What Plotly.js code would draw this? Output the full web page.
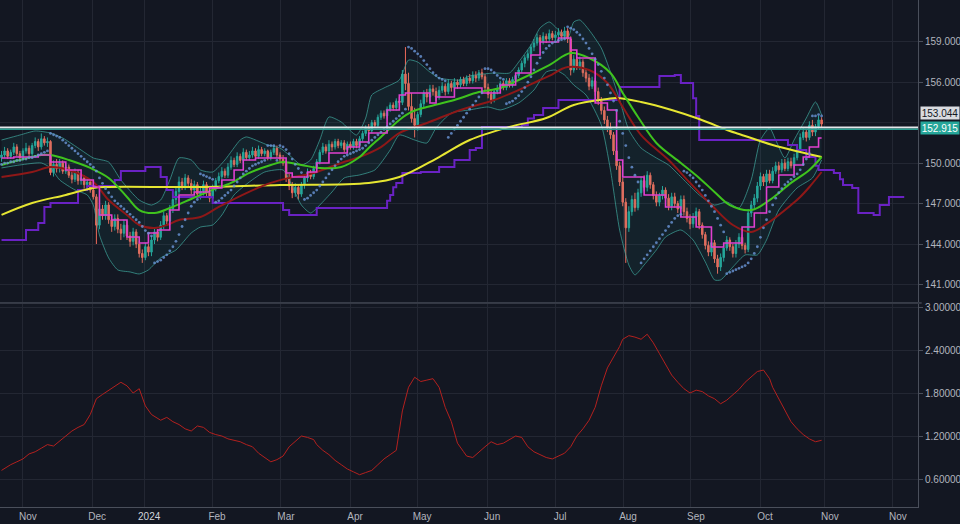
<!DOCTYPE html>
<html><head><meta charset="utf-8">
<script src="https://cdn.plot.ly/plotly-3.0.1.min.js"></script>
<style>html,body{margin:0;padding:0;background:#131722;}#chart{width:960px;height:524px;}</style>
</head><body><div id="chart"></div>
<script>
// ---- Daily candles (bar index 0 = first visible bar) ----
const openPx = [
150.4,150.6,150.9,150.5,150.8,151.2,150.7,150.4,150.9,151.1,
150.7,151.3,151.6,151.2,151.8,151.5,151.6,149.3,149.9,149.6,
150.0,149.4,149.7,149.1,148.8,149.3,148.7,148.9,148.4,148.6,
148.0,147.5,145.4,146.6,146.1,146.9,145.8,145.3,145.9,145.1,
144.8,145.4,144.6,144.2,144.9,144.0,143.3,143.0,143.8,143.4,
144.3,144.9,144.5,145.4,146.1,145.7,146.6,147.3,147.9,148.6,
148.3,148.9,148.5,148.0,148.4,147.7,147.9,148.4,147.8,147.4,
148.1,148.7,149.0,149.4,149.1,149.7,150.2,149.9,150.5,150.2,
150.8,150.4,150.6,150.9,150.5,151.0,150.7,150.9,150.4,150.8,
151.1,150.6,150.3,150.0,148.9,148.3,147.8,148.2,147.7,148.4,
148.9,149.3,149.0,149.6,150.1,150.8,151.2,150.9,151.4,151.2,
151.6,151.3,151.5,151.0,151.4,151.2,151.6,151.3,151.8,152.2,
152.6,152.4,153.0,152.8,153.4,153.7,153.5,154.0,154.3,154.1,
154.6,154.5,156.6,155.9,154.2,153.3,152.8,153.6,154.4,155.2,
154.9,155.5,155.3,154.9,155.4,155.7,155.3,155.9,155.6,156.0,
155.8,156.2,155.9,156.3,156.1,156.5,156.3,156.7,156.4,155.6,
155.1,154.7,155.3,155.5,155.9,155.6,156.1,155.8,156.2,156.5,
156.9,157.4,157.8,158.1,158.6,158.9,159.3,159.0,159.4,159.2,
159.6,159.3,159.5,159.7,159.4,159.8,159.2,156.9,157.7,157.1,
157.5,156.7,156.3,155.7,156.1,155.3,154.6,153.9,153.2,152.6,
152.1,150.9,149.8,148.6,147.1,145.2,146.4,147.3,146.7,147.8,
148.7,148.2,149.1,148.4,147.6,147.1,147.6,148.0,147.4,146.8,
147.5,147.0,146.6,147.3,146.4,145.9,145.5,146.0,146.4,145.4,
144.7,143.9,143.4,144.1,142.9,142.3,143.0,143.7,144.3,143.8,
143.3,144.0,144.5,143.9,143.6,146.3,146.9,147.4,148.3,149.0,
148.6,149.2,148.7,149.4,149.8,149.5,150.0,149.6,150.1,149.8,
150.4,151.0,151.9,152.3,151.9,152.8,152.3,152.7,153.2];
const highPx = [
150.9,151.2,151.1,151.0,151.5,151.4,150.9,151.1,151.5,151.3,
151.5,151.9,151.8,152.2,152.0,151.9,151.7,150.2,150.3,150.3,
150.2,149.9,149.9,149.4,149.6,149.5,149.2,149.1,148.9,148.8,
148.3,147.7,146.9,146.9,147.2,147.1,146.1,146.2,146.2,145.5,
145.8,145.7,144.9,145.2,145.1,144.2,143.6,144.1,144.0,144.6,
145.2,145.1,145.7,146.4,146.3,146.9,147.6,148.2,149.0,148.9,
149.2,149.1,148.8,148.7,148.6,148.2,148.7,148.6,148.0,148.4,
148.9,149.3,149.7,149.6,150.0,150.5,150.4,150.8,150.7,151.1,
151.0,150.9,151.2,151.1,151.3,151.2,151.1,151.0,151.0,151.3,
151.3,150.8,150.6,150.2,149.2,148.6,148.5,148.4,148.6,149.1,
149.6,149.5,149.8,150.3,151.0,151.5,151.4,151.7,151.6,151.8,
151.8,151.7,151.7,151.6,151.6,151.8,151.8,152.0,152.4,152.8,
152.9,153.2,153.2,153.6,153.9,153.9,154.2,154.5,154.5,154.8,
154.9,156.9,158.6,156.7,155.2,154.1,153.8,154.7,155.4,155.5,
155.8,155.8,155.6,155.7,156.0,155.9,156.2,156.1,156.3,156.2,
156.4,156.4,156.5,156.6,156.8,156.8,156.9,157.0,156.6,155.9,
155.4,155.5,155.8,156.1,156.1,156.3,156.3,156.4,156.7,157.1,
157.6,158.0,158.4,158.8,159.2,159.6,159.5,159.7,159.6,159.9,
159.8,159.8,160.0,159.9,160.1,160.0,159.4,158.0,157.9,157.9,
157.7,157.0,156.6,156.4,156.3,155.6,154.9,154.2,153.5,153.0,
152.3,151.2,150.1,148.9,147.4,146.8,147.6,147.8,148.1,149.0,
149.1,149.4,149.3,148.6,147.9,147.8,148.3,148.2,147.7,147.8,
147.8,147.2,147.6,147.6,146.7,146.2,146.3,146.7,146.6,145.6,
144.9,144.2,144.4,144.3,143.2,143.3,144.0,144.6,144.5,144.0,
144.3,144.8,144.7,144.1,146.6,147.2,147.7,148.6,149.3,149.2,
149.5,149.5,149.7,150.1,150.1,150.3,150.3,150.4,150.4,150.7,
151.3,152.2,152.6,152.5,153.1,153.2,152.9,153.5,153.4];
const lowPx = [
150.1,150.4,150.3,150.3,150.6,150.5,150.2,150.2,150.7,150.5,
150.5,151.1,150.9,151.0,151.3,151.2,149.1,149.0,149.3,149.3,
149.2,149.2,148.9,148.5,148.6,148.4,148.4,148.1,148.1,147.8,
147.3,144.0,145.1,145.8,145.8,145.5,144.9,145.0,144.8,144.3,
144.5,144.3,143.8,143.9,143.7,143.0,142.6,142.8,143.1,143.1,
144.0,144.2,144.3,145.1,145.4,145.4,146.3,147.0,147.7,148.0,
148.0,148.3,147.7,147.7,147.4,147.3,147.6,147.5,147.1,147.2,
147.9,148.5,148.8,148.9,148.9,149.5,149.7,149.7,150.0,150.0,
150.2,150.2,150.4,150.3,150.3,150.5,150.5,150.2,150.2,150.6,
150.4,150.1,149.8,148.6,148.0,147.4,147.5,147.3,147.5,148.1,
148.6,148.8,148.8,149.4,149.9,150.6,150.7,150.7,150.9,151.0,
151.1,151.1,150.8,150.8,151.0,151.0,151.1,151.1,151.6,152.0,
152.1,152.2,152.6,152.6,153.2,153.3,153.3,153.8,153.9,153.9,
154.3,154.3,155.4,153.9,153.0,151.9,152.4,153.4,154.1,154.5,
154.6,155.0,154.6,154.7,155.2,155.0,155.1,155.3,155.4,155.5,
155.6,155.7,155.7,155.9,155.9,156.0,156.1,156.2,155.4,154.8,
154.4,154.5,155.1,155.3,155.4,155.4,155.6,155.6,156.0,156.3,
156.7,157.1,157.6,157.9,158.3,158.7,158.8,158.8,158.9,159.0,
159.1,159.1,159.3,159.2,159.2,158.9,156.5,156.7,156.9,156.9,
156.4,156.0,155.4,155.5,155.0,154.3,153.6,152.9,152.3,151.8,
150.6,149.5,148.3,146.8,142.6,144.9,146.1,146.4,146.5,147.5,
147.9,147.9,148.1,147.3,146.8,146.8,147.3,147.1,146.5,146.5,
146.7,146.3,146.3,146.1,145.6,145.1,145.2,145.8,145.1,144.4,
143.6,143.1,143.1,142.6,141.8,142.0,142.7,143.5,143.5,143.0,
143.0,143.7,143.6,143.3,143.4,146.0,146.6,147.1,148.0,148.3,
148.3,148.5,148.5,149.2,149.2,149.3,149.4,149.4,149.6,149.6,
150.2,150.8,151.7,151.6,151.7,152.0,152.0,152.5,152.6];
const closePx = [
150.6,150.9,150.5,150.8,151.2,150.7,150.4,150.9,151.1,150.7,
151.3,151.6,151.2,151.8,151.5,151.6,149.3,149.9,149.6,150.0,
149.4,149.7,149.1,148.8,149.3,148.7,148.9,148.4,148.6,148.0,
147.5,145.4,146.6,146.1,146.9,145.8,145.3,145.9,145.1,144.8,
145.4,144.6,144.2,144.9,144.0,143.3,143.0,143.8,143.4,144.3,
144.9,144.5,145.4,146.1,145.7,146.6,147.3,147.9,148.6,148.3,
148.9,148.5,148.0,148.4,147.7,147.9,148.4,147.8,147.4,148.1,
148.7,149.0,149.4,149.1,149.7,150.2,149.9,150.5,150.2,150.8,
150.4,150.6,150.9,150.5,151.0,150.7,150.9,150.4,150.8,151.1,
150.6,150.3,150.0,148.9,148.3,147.8,148.2,147.7,148.4,148.9,
149.3,149.0,149.6,150.1,150.8,151.2,150.9,151.4,151.2,151.6,
151.3,151.5,151.0,151.4,151.2,151.6,151.3,151.8,152.2,152.6,
152.4,153.0,152.8,153.4,153.7,153.5,154.0,154.3,154.1,154.6,
154.5,156.6,155.9,154.2,153.3,152.8,153.6,154.4,155.2,154.9,
155.5,155.3,154.9,155.4,155.7,155.3,155.9,155.6,156.0,155.8,
156.2,155.9,156.3,156.1,156.5,156.3,156.7,156.4,155.6,155.1,
154.7,155.3,155.5,155.9,155.6,156.1,155.8,156.2,156.5,156.9,
157.4,157.8,158.1,158.6,158.9,159.3,159.0,159.4,159.2,159.6,
159.3,159.5,159.7,159.4,159.8,159.2,156.9,157.7,157.1,157.5,
156.7,156.3,155.7,156.1,155.3,154.6,153.9,153.2,152.6,152.1,
150.9,149.8,148.6,147.1,145.2,146.4,147.3,146.7,147.8,148.7,
148.2,149.1,148.4,147.6,147.1,147.6,148.0,147.4,146.8,147.5,
147.0,146.6,147.3,146.4,145.9,145.5,146.0,146.4,145.4,144.7,
143.9,143.4,144.1,142.9,142.3,143.0,143.7,144.3,143.8,143.3,
144.0,144.5,143.9,143.6,146.3,146.9,147.4,148.3,149.0,148.6,
149.2,148.7,149.4,149.8,149.5,150.0,149.6,150.1,149.8,150.4,
151.0,151.9,152.3,151.9,152.8,152.3,152.7,153.2,152.9];
// Parabolic SAR dots, one per bar
const sarPx = [
149.9,150.0,150.0,150.1,150.1,150.2,150.2,150.3,150.3,150.4,
150.4,150.5,150.6,150.7,150.8,150.9,152.2,152.1,152.0,151.9,
151.7,151.5,151.3,151.1,150.9,150.7,150.5,150.3,150.1,149.9,
149.7,149.4,148.9,148.5,148.1,147.8,147.5,147.2,147.0,146.8,
146.6,146.4,146.2,146.0,145.8,145.6,145.3,145.0,144.8,144.6,
142.6,142.7,142.8,143.0,143.2,143.5,143.8,144.2,144.7,145.3,
145.8,146.3,146.8,147.1,147.3,149.2,149.1,149.0,148.9,148.8,
147.1,147.2,147.4,147.6,147.8,148.0,148.3,148.6,148.9,149.2,
149.4,149.6,149.8,149.9,150.0,150.1,150.2,151.3,151.3,151.3,
150.2,151.3,151.2,151.0,150.7,150.3,149.9,149.6,149.3,147.3,
147.4,147.6,147.8,148.0,148.3,148.6,148.9,149.2,149.5,149.8,
150.1,150.3,150.5,150.6,150.7,150.8,150.9,151.0,151.1,151.3,
151.5,151.7,151.9,152.1,152.3,152.5,152.7,152.9,153.1,153.3,
153.5,153.7,154.0,158.6,158.5,158.3,158.1,157.9,157.6,157.3,
157.0,156.7,156.5,156.3,156.2,156.1,151.9,152.2,152.5,152.8,
153.1,153.4,153.7,154.0,154.3,154.6,154.9,155.2,157.0,157.0,
156.9,156.7,156.5,156.3,156.2,154.4,154.5,154.6,154.8,155.0,
155.3,155.6,156.0,156.4,156.9,157.4,157.8,158.2,158.5,158.7,
158.9,159.0,159.1,159.15,159.2,160.1,160.0,159.9,159.7,159.5,
159.2,158.9,158.5,158.1,157.7,157.3,156.8,156.3,155.8,155.2,
154.6,153.9,153.1,152.2,151.3,150.4,149.7,149.1,148.6,142.6,
142.9,143.2,143.5,143.8,144.1,144.4,144.7,145.0,145.3,145.6,
145.9,146.1,146.2,149.4,149.3,149.1,148.9,148.6,148.3,148.0,
147.6,147.2,146.8,146.4,145.9,145.4,144.9,141.8,141.9,142.0,
142.1,142.2,142.3,142.4,142.6,142.9,143.3,143.8,144.5,145.2,
145.8,146.4,146.9,147.4,147.8,148.1,148.4,148.6,148.8,149.0,
149.2,149.5,149.9,150.3,150.7,153.5,153.5,153.6,153.5];

// ---- Moving averages (read at sample bars) ----
const sma200Bars = [0,10,21,30,35,65,91,120,130,143,153,166,178,187,198,201,209,219,228,238,241,252,261,268];
const sma200Vals = [146.16,147.04,147.64,148.16,148.23,148.23,148.38,148.53,148.97,150.45,151.71,152.68,153.34,154.31,154.75,154.83,154.53,153.94,153.27,152.38,152.16,151.34,150.82,150.45];
const sma50Bars = [0,13,16,22,29,35,41,45,50,55,62,69,75,81,88,92,98,104,111,117,120,124,130,134,139,148,156,163,169,179,186,192,199,203,208,214,222,228,233,238,245,251,258,264,268];
const sma50Vals = [149.86,150.60,150.60,150.23,149.64,148.90,147.49,146.52,146.30,146.67,147.34,148.01,148.53,149.27,149.86,150.08,149.86,149.64,149.71,150.45,151.12,151.94,153.20,153.79,154.16,154.68,155.27,155.57,156.16,157.27,158.16,157.79,156.68,155.20,153.42,151.49,150.01,148.90,147.86,146.89,146.52,147.26,148.53,149.49,150.45];
const sma100Bars = [0,10,16,22,30,35,41,45,50,54,58,65,71,80,88,94,102,111,117,124,130,139,150,161,169,176,179,185,192,198,203,209,218,225,232,239,245,250,258,261,264,268];
const sma100Vals = [148.97,149.34,149.71,149.49,148.60,147.26,146.15,145.41,145.19,145.41,145.78,146.00,146.75,147.78,148.53,148.90,149.27,150.01,150.45,151.19,152.23,152.97,153.94,154.68,155.42,156.16,156.46,157.12,156.90,155.94,154.16,152.08,150.23,148.53,146.89,145.41,144.89,145.49,146.89,147.49,148.23,149.34];
// ---- Conversion line (stepped) ----
const convBars = [0,4,12,16,21,26,30,32,36,41,45,48,51,55,58,63,68,72,76,79,83,93,95,100,103,107,113,117,120,126,130,132,140,142,148,157,163,168,173,176,182,186,188,194,198,201,203,210,217,222,227,232,236,242,246,250,254,259,262,264,267,268];
const convVals = [150.38,150.45,150.60,150.08,149.49,148.75,148.23,146.15,145.78,144.52,144.08,144.82,145.04,146.52,147.64,147.86,148.16,148.75,149.49,150.23,150.38,149.27,148.97,149.34,150.01,150.75,151.19,151.56,152.23,153.94,155.05,155.20,154.46,154.90,155.57,155.20,155.79,156.68,158.01,158.98,159.27,158.38,157.79,154.46,153.94,150.23,148.97,147.64,146.75,146.00,145.26,143.78,144.08,145.26,146.30,148.23,149.12,149.86,150.45,151.19,151.86,151.86];
// ---- Leading span (stepped, projected forward) ----
const spanBars = [0,8,12,14,16,25,28,37,39,47,52,54,56,69,92,94,103,126,127,128,129,131,137,143,148,153,155,157,170,172,174,177,182,201,202,215,220,222,226,227,228,255,257,260,263,266,267,272,274,275,278,280,285,287,290,295];
const spanVals = [144.30,145.04,145.56,146.75,147.04,148.01,148.30,148.75,149.42,149.71,148.97,148.01,147.49,147.04,146.52,146.15,146.67,147.20,147.64,148.20,148.53,149.27,149.34,149.71,150.23,150.97,151.12,152.68,152.83,153.30,153.57,154.09,154.68,154.83,155.64,156.46,156.53,155.94,154.80,153.50,151.71,151.71,151.34,150.97,150.45,149.80,149.49,149.27,148.80,148.38,148.16,146.30,146.15,146.89,147.49,147.49];
// ---- Bollinger bands ----
const bbUpBars = [0,6,11,16,20,26,30,35,39,45,49,52,55,58,62,65,69,73,78,80,87,91,94,98,101,104,107,111,116,119,121,125,130,133,136,140,143,150,153,161,166,169,173,176,179,182,185,187,189,192,196,199,202,205,209,214,218,223,228,233,237,241,245,248,251,253,256,259,263,266,268];
const bbUpVals = [151.71,152.08,152.38,152.23,151.86,150.97,150.38,150.08,148.75,147.26,146.89,147.26,148.75,150.38,150.23,149.49,149.34,150.23,151.71,151.94,151.34,151.12,150.60,149.86,150.23,151.71,153.42,153.05,152.08,153.34,155.05,155.57,156.16,157.64,157.49,156.75,156.31,156.16,156.46,156.68,156.68,157.49,158.75,160.02,160.46,159.87,159.27,160.46,160.61,159.87,158.53,156.75,154.68,152.46,151.12,150.38,149.86,148.75,147.64,146.89,147.12,146.67,148.75,151.71,152.60,151.71,150.38,151.71,153.34,154.53,153.57];
const bbLoBars = [0,6,13,16,19,24,28,30,32,35,38,42,45,48,52,57,62,65,69,72,76,81,86,92,94,98,101,104,108,112,117,122,127,130,135,139,142,147,153,159,163,169,174,178,181,184,187,191,196,199,202,205,207,210,214,217,222,226,230,233,235,239,243,247,250,254,260,265,268];
const bbLoVals = [149.64,149.86,150.01,149.64,148.75,148.01,147.64,146.89,144.67,142.97,142.08,141.93,141.78,142.08,142.97,143.56,144.82,145.26,145.41,146.15,147.64,148.60,149.34,149.49,148.75,146.89,146.30,146.89,147.86,148.90,149.12,149.49,150.97,152.08,151.71,151.49,152.60,153.71,153.94,154.16,153.94,154.46,155.42,156.75,156.90,156.53,155.79,155.05,152.83,149.49,145.04,142.45,141.71,142.45,143.56,144.52,145.04,144.30,142.67,141.34,141.34,142.30,143.19,143.19,144.30,146.52,148.16,148.90,150.23];
// ---- Lower pane volatility line ----
const volBars = [0,1,3,5,7,9,11,13,15,17,19,21,23,25,27,29,31,33,35,37,39,41,43,45,47,49,51,52,54,56,58,60,62,64,66,68,70,72,74,76,78,80,82,84,86,88,90,92,94,96,98,100,102,103,105,107,109,111,113,115,117,119,121,123,125,127,129,131,133,135,137,139,141,143,145,147,149,151,152,154,156,158,160,162,164,166,168,170,172,174,176,178,180,182,184,186,188,190,192,194,196,198,200,202,203,205,207,209,211,213,215,217,219,221,223,225,227,229,231,233,235,237,239,241,243,245,247,249,251,252,254,256,258,260,262,264,266,268];
const volVals = [0.72,0.75,0.80,0.84,0.88,0.95,0.98,1.03,1.08,1.06,
1.13,1.20,1.27,1.32,1.36,1.50,1.72,1.78,1.84,1.90,
1.95,1.90,1.80,1.86,1.62,1.50,1.45,1.42,1.46,1.40,
1.36,1.30,1.27,1.34,1.32,1.25,1.22,1.20,1.16,1.14,
1.12,1.08,1.05,0.96,0.90,0.84,0.87,0.92,1.05,1.12,
1.20,1.18,1.15,1.08,1.00,0.94,0.86,0.80,0.74,0.70,
0.66,0.69,0.72,0.80,0.88,0.94,1.00,1.55,1.88,2.02,
1.96,1.98,2.00,1.88,1.60,1.40,1.10,0.98,0.92,0.90,
0.98,1.05,1.12,1.08,1.10,1.15,1.20,1.18,1.05,0.98,
0.94,0.90,0.88,0.92,0.96,1.05,1.20,1.30,1.42,1.60,
1.90,2.15,2.30,2.45,2.55,2.60,2.58,2.55,2.62,2.50,
2.35,2.20,2.05,1.95,1.86,1.80,1.84,1.82,1.76,1.72,
1.65,1.70,1.78,1.85,1.95,2.02,2.10,2.12,2.00,1.88,
1.72,1.55,1.40,1.30,1.22,1.16,1.12,1.14];

// ---- Axis labels ----
const monthTickBars = [7.0,29.6,46.6,68.8,91.3,113.9,135.8,158.7,180.9,203.1,225.3,247.9,269.1,291.3];
const monthLabels = ['Nov','Dec','<span style="color:#d1d4dc">2024</span>','Feb','Mar','Apr','May','Jun','Jul','Aug','Sep','Oct','Nov','Nov'];
const priceTicks = [141,144,147,150,156,159];   // 153 label is covered by the price tags
const hiddenGridLevel = 153;
const volTicks = [0.6,1.2,1.8,2.4,3.0];
const levelWhite = 152.64, levelTeal = 152.51;
const labelWhiteText = '153.044', labelTealText = '152.915';

const barIndex = closePx.map((_, i) => i);
const BG = '#131722', GRID = '#232733', AXIS = '#4a4f5b', TXT = '#b2b5be';

const traces = [
  {type:'scatter', mode:'lines', x:bbUpBars, y:bbUpVals, line:{color:'rgba(64,168,158,0.7)', width:1, shape:'spline', smoothing:0.6}, hoverinfo:'skip'},
  {type:'scatter', mode:'lines', x:bbLoBars, y:bbLoVals, line:{color:'rgba(64,168,158,0.7)', width:1, shape:'spline', smoothing:0.6}, fill:'tonexty', fillcolor:'rgba(38,166,154,0.08)', hoverinfo:'skip'},
  {type:'scatter', mode:'lines', x:spanBars, y:spanVals, line:{color:'#6a22c4', width:2, shape:'hv'}, hoverinfo:'skip'},
  {type:'scatter', mode:'lines', x:sma200Bars, y:sma200Vals, line:{color:'#e6e632', width:2, shape:'spline'}, hoverinfo:'skip'},
  {type:'scatter', mode:'lines', x:sma100Bars, y:sma100Vals, line:{color:'#8e1818', width:2, shape:'spline'}, hoverinfo:'skip'},
  {type:'candlestick', x:barIndex, open:openPx, high:highPx, low:lowPx, close:closePx,
   increasing:{line:{color:'#26a69a', width:1}, fillcolor:'#26a69a'},
   decreasing:{line:{color:'#ef6a5a', width:1}, fillcolor:'#ef6a5a'}, whiskerwidth:0, hoverinfo:'skip'},
  {type:'scatter', mode:'lines', x:sma50Bars, y:sma50Vals, line:{color:'#3fc31e', width:2, shape:'spline'}, hoverinfo:'skip'},
  {type:'scatter', mode:'lines', x:convBars, y:convVals, line:{color:'#e040d0', width:1.6, shape:'hv'}, hoverinfo:'skip'},
  {type:'scatter', mode:'markers', x:barIndex, y:sarPx, marker:{color:'#6a96d8', size:2.8, symbol:'circle', opacity:0.8}, hoverinfo:'skip'},
  {type:'scatter', mode:'lines', x:volBars, y:volVals, xaxis:'x', yaxis:'y2', line:{color:'#b3211f', width:1}, hoverinfo:'skip'}
];

const layout = {
  width:960, height:524,
  paper_bgcolor:BG, plot_bgcolor:BG,
  margin:{l:0, r:42, t:0, b:17},
  showlegend:false,
  font:{family:'Liberation Sans, Arial, sans-serif', size:10, color:TXT},
  xaxis:{range:[-0.5,299.5], anchor:'y2', tickmode:'array', tickvals:monthTickBars, ticktext:monthLabels,
         gridcolor:GRID, showline:true, linecolor:AXIS, zeroline:false, ticks:'', ticklabelshift:5,
         rangeslider:{visible:false}, fixedrange:true, tickfont:{size:10, color:TXT}},
  yaxis:{domain:[0.404,1], range:[139.69,162.09], side:'right', tickmode:'array', tickvals:priceTicks,
         tickformat:'.3f', gridcolor:GRID, showline:true, linecolor:AXIS, zeroline:false,
         ticks:'outside', ticklen:4, tickcolor:AXIS, fixedrange:true},
  yaxis2:{domain:[0,0.4], range:[0.2094,3.039], side:'right', tickmode:'array', tickvals:volTicks,
          tickformat:'.5f', gridcolor:GRID, showline:true, linecolor:AXIS, zeroline:false,
          ticks:'outside', ticklen:4, tickcolor:AXIS, fixedrange:true},
  shapes:[
    {type:'line', xref:'paper', yref:'y', x0:0, x1:1, y0:hiddenGridLevel, y1:hiddenGridLevel, layer:'below', line:{color:GRID, width:1}},
    {type:'line', xref:'paper', yref:'paper', x0:0, x1:1.004, y0:0.4024, y1:0.4024, line:{color:'#5a5f6b', width:1}},
    {type:'line', xref:'paper', yref:'y', x0:0, x1:1, y0:levelWhite, y1:levelWhite, line:{color:'#e6e8ec', width:2}},
    {type:'line', xref:'paper', yref:'y', x0:0, x1:1, y0:levelTeal, y1:levelTeal, line:{color:'#2a9d90', width:1.5}}
  ],
  annotations:[
    {xref:'paper', yref:'y', x:1, y:153.68, xanchor:'left', yanchor:'middle', xshift:2, text:labelWhiteText, showarrow:false,
     bgcolor:'#d9dbe0', font:{color:'#131722', size:10}, width:38, height:12, borderpad:0},
    {xref:'paper', yref:'y', x:1, y:152.58, xanchor:'left', yanchor:'middle', xshift:2, text:labelTealText, showarrow:false,
     bgcolor:'#26a69a', font:{color:'#ffffff', size:10}, width:38, height:12, borderpad:0}
  ]
};

Plotly.newPlot('chart', traces, layout, {staticPlot:true, displayModeBar:false});
</script>
</body></html>
